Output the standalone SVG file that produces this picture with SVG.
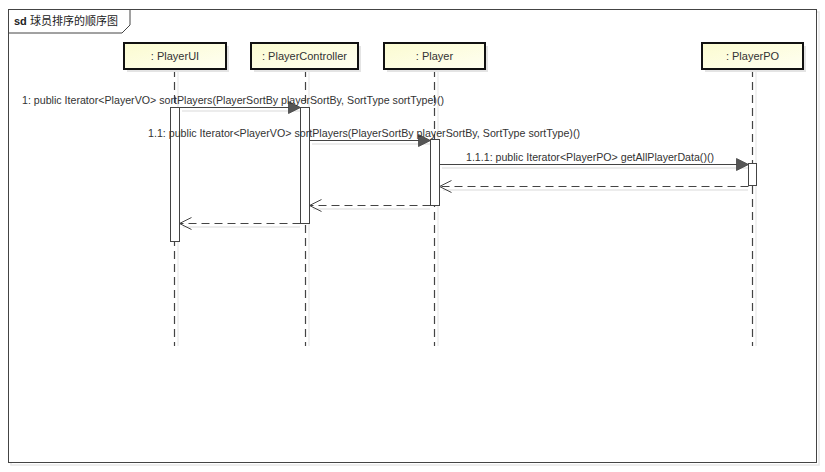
<svg xmlns="http://www.w3.org/2000/svg" width="825" height="472" viewBox="0 0 825 472">
<defs>
<linearGradient id="boxg" x1="0" y1="0" x2="1" y2="1">
<stop offset="0" stop-color="#FBFBD0"/>
<stop offset="1" stop-color="#FFFFF2"/>
</linearGradient>
<marker id="filled" markerWidth="14" markerHeight="14" refX="13" refY="7" orient="auto" markerUnits="userSpaceOnUse">
<path d="M1,1 L13,7 L1,13 Z" fill="#555" stroke="#444" stroke-width="0.8"/>
</marker>
<marker id="open" markerWidth="14" markerHeight="14" refX="13" refY="7" orient="auto" markerUnits="userSpaceOnUse">
<path d="M1,1 L13,7 L1,13" fill="none" stroke="#444" stroke-width="1"/>
</marker>
</defs>
<style>
.txt{font-family:"Liberation Sans","Noto Sans CJK SC",sans-serif;font-size:11px;fill:#333}
.box{fill:url(#boxg);stroke:#111;stroke-width:2}
.bshadow{fill:#e4e4e4}
.life{stroke:#444;stroke-width:1.2;stroke-dasharray:8,5;fill:none}
.lshadow{stroke:#e8e8e8;stroke-width:1.2;fill:none}
.act{fill:#fff;stroke:#444;stroke-width:1}
.msg{stroke:#444;stroke-width:1;fill:none}
.ret{stroke:#444;stroke-width:1;stroke-dasharray:8,5;fill:none}
.mshadow{stroke:#e6e6e6;stroke-width:1.5;fill:none}
</style>
<rect width="825" height="472" fill="#fff"/>
<g id="frame">
<rect x="11" y="12" width="808" height="453" fill="none" stroke="#e8e8e8" stroke-width="1.5"/>
<rect x="8.5" y="9.5" width="808" height="453" fill="#fff" stroke="#444" stroke-width="1"/>
<path d="M8.5,33 L122,33 L130,25 L130,9.5" fill="none" stroke="#444" stroke-width="1"/>
<text x="14" y="25" class="txt" style="fill:#222"><tspan font-weight="bold">sd</tspan> 球员排序的顺序图</text>
</g>
<g id="PlayerUI">
<line x1="178" y1="71" x2="178" y2="346" class="lshadow"/>
<line x1="174.5" y1="69" x2="174.5" y2="346" class="life"/>
<rect x="127" y="46" width="102" height="26" class="bshadow"/>
<rect x="124" y="43" width="102" height="26" class="box"/>
<text x="175" y="60" text-anchor="middle" class="txt">: PlayerUI</text>
<rect x="170.5" y="107.5" width="9" height="134" class="act"/>
</g>
<g id="PlayerController">
<line x1="309" y1="71" x2="309" y2="346" class="lshadow"/>
<line x1="305.5" y1="69" x2="305.5" y2="346" class="life"/>
<rect x="254" y="46" width="107" height="26" class="bshadow"/>
<rect x="251" y="43" width="107" height="26" class="box"/>
<text x="304.5" y="60" text-anchor="middle" class="txt">: PlayerController</text>
<rect x="300.5" y="107.5" width="9" height="116" class="act"/>
</g>
<g id="Player">
<line x1="438" y1="71" x2="438" y2="346" class="lshadow"/>
<line x1="434.5" y1="69" x2="434.5" y2="346" class="life"/>
<rect x="387" y="46" width="101" height="26" class="bshadow"/>
<rect x="384" y="43" width="101" height="26" class="box"/>
<text x="434.5" y="60" text-anchor="middle" class="txt">: Player</text>
<rect x="430.5" y="139.5" width="9" height="66" class="act"/>
</g>
<g id="PlayerPO">
<line x1="756" y1="71" x2="756" y2="346" class="lshadow"/>
<line x1="752.5" y1="69" x2="752.5" y2="346" class="life"/>
<rect x="705" y="46" width="101" height="26" class="bshadow"/>
<rect x="702" y="43" width="101" height="26" class="box"/>
<text x="752.5" y="60" text-anchor="middle" class="txt">: PlayerPO</text>
<rect x="748.5" y="163.5" width="8" height="22" class="act"/>
</g>
<g id="connectors">
<line x1="182" y1="111" x2="300" y2="111" class="mshadow"/>
<line x1="179.5" y1="107.5" x2="300.5" y2="107.5" class="msg" marker-end="url(#filled)"/>
<text x="22" y="104" class="txt" textLength="422" lengthAdjust="spacingAndGlyphs">1: public Iterator&lt;PlayerVO&gt; sortPlayers(PlayerSortBy playerSortBy, SortType sortType)()</text>
<line x1="312" y1="144" x2="430" y2="144" class="mshadow"/>
<line x1="309.5" y1="140.5" x2="430.5" y2="140.5" class="msg" marker-end="url(#filled)"/>
<text x="148" y="137" class="txt" textLength="432" lengthAdjust="spacingAndGlyphs">1.1: public Iterator&lt;PlayerVO&gt; sortPlayers(PlayerSortBy playerSortBy, SortType sortType)()</text>
<line x1="442" y1="168" x2="748" y2="168" class="mshadow"/>
<line x1="439.5" y1="164.5" x2="748.5" y2="164.5" class="msg" marker-end="url(#filled)"/>
<text x="466" y="161" class="txt" textLength="248" lengthAdjust="spacingAndGlyphs">1.1.1: public Iterator&lt;PlayerPO&gt; getAllPlayerData()()</text>
<line x1="443" y1="190" x2="748" y2="190" class="mshadow"/>
<line x1="748.5" y1="186.5" x2="439.5" y2="186.5" class="ret" marker-end="url(#open)"/>
<line x1="313" y1="209" x2="430" y2="209" class="mshadow"/>
<line x1="430.5" y1="205.5" x2="309.5" y2="205.5" class="ret" marker-end="url(#open)"/>
<line x1="183" y1="227" x2="300" y2="227" class="mshadow"/>
<line x1="300.5" y1="223.5" x2="179.5" y2="223.5" class="ret" marker-end="url(#open)"/>
</g>
</svg>
